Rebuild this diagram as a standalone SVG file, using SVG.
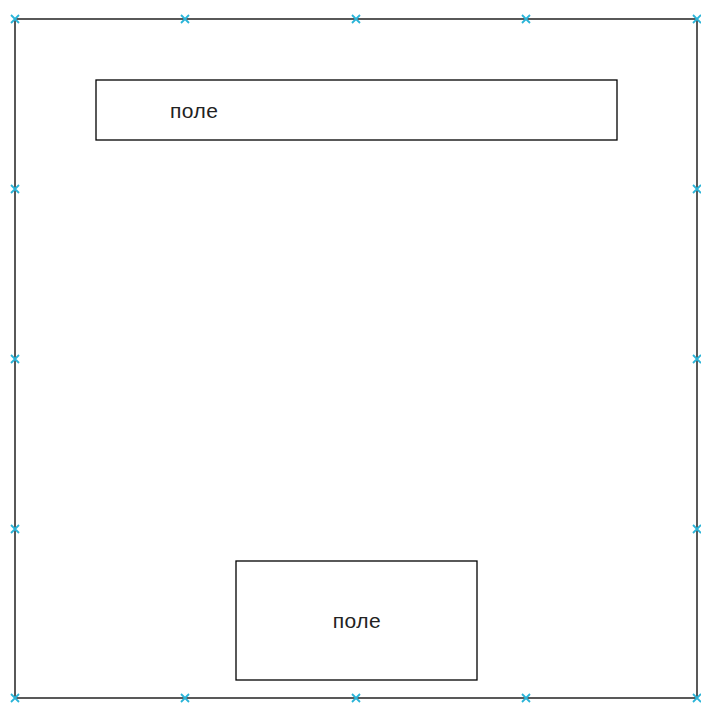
<svg xmlns="http://www.w3.org/2000/svg" width="701" height="705" viewBox="0 0 701 705">
<style>
.box{fill:#fff;stroke:#000;stroke-width:1.3}
.lbl{font-family:"Liberation Sans",Arial,sans-serif;font-size:21px;fill:#222;letter-spacing:0.5px}
.x{stroke:#2ab4d8;stroke-width:1.8;fill:none}
</style>
<defs>
<path id="cr" class="x" d="M-4,-4L4,4M-4,4L4,-4"/>
</defs>
<g id="frame">
<rect class="box" x="15" y="19" width="682" height="679"/>
</g>
<g id="node1">
<rect class="box" x="96" y="80" width="521" height="60"/>
<text class="lbl" x="170" y="118">поле</text>
</g>
<g id="node2">
<rect class="box" x="236" y="561" width="241" height="119"/>
<text class="lbl" x="357" y="628" text-anchor="middle">поле</text>
</g>
<g id="connectors"></g>
<g id="markers">
<use href="#cr" x="15" y="19"/><use href="#cr" x="185" y="19"/><use href="#cr" x="356" y="19"/><use href="#cr" x="526" y="19"/><use href="#cr" x="697" y="19"/>
<use href="#cr" x="15" y="698"/><use href="#cr" x="185" y="698"/><use href="#cr" x="356" y="698"/><use href="#cr" x="526" y="698"/><use href="#cr" x="697" y="698"/>
<use href="#cr" x="15" y="189"/><use href="#cr" x="15" y="359"/><use href="#cr" x="15" y="529"/>
<use href="#cr" x="697" y="189"/><use href="#cr" x="697" y="359"/><use href="#cr" x="697" y="529"/>
</g>
</svg>
